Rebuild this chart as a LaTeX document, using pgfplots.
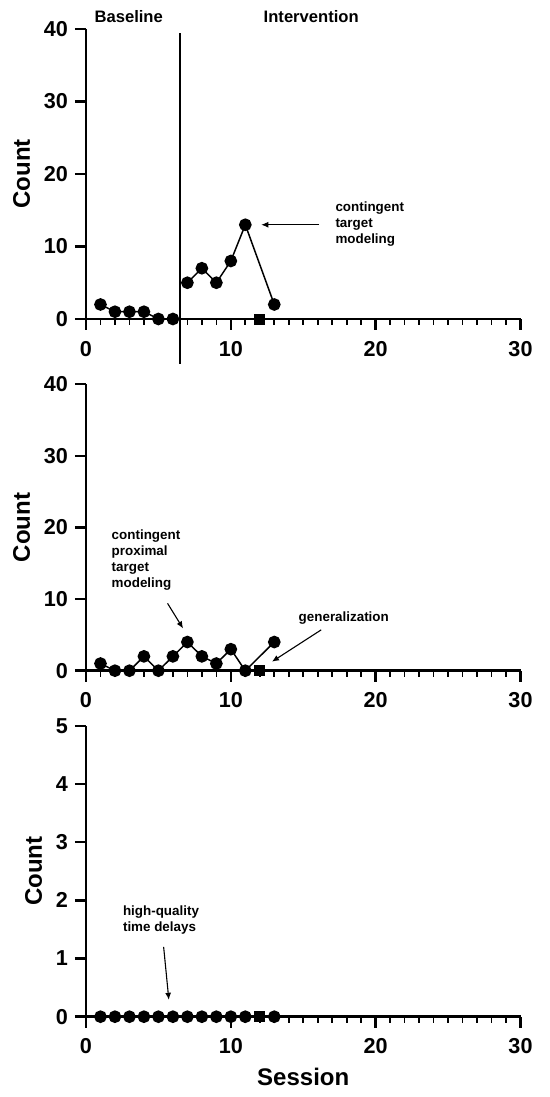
\documentclass[border=0pt]{standalone}
\usepackage{fontspec}
\setmainfont{Liberation Sans}
\usepackage{pgfplots}
\pgfplotsset{compat=1.18}
\usetikzlibrary{arrows.meta}
\pgfplotsset{
 panel/.style={
  scale only axis, width=217.25pt, anchor=south west,
  xmin=0, xmax=30, ymin=0,
  axis x line=bottom, axis y line=left,
  axis line style={line width=1.35pt,-},
  tick align=outside,
  major tick style={line width=1.2pt,black},
  minor tick style={line width=0.85pt,black},
  major tick length=5.5pt, minor tick length=3pt,
  xtick={0,10,20,30}, minor x tick num=9,
  clip=false,
  tick label style={font=\fontsize{10.8}{13}\selectfont\bfseries},
  xticklabel style={yshift=-2pt},
  /pgf/number format/assume math mode=true,
  label style={font=\fontsize{12}{14}\selectfont\bfseries},
  xlabel style={yshift=0pt},
  ylabel=Count,
 },
 dat/.style={black, line width=0.75pt, mark=*, mark size=2.8pt, mark options={solid}},
 sq/.style={only marks, mark=square*, mark size=2.5pt, black},
}
\tikzset{
 ann/.style={anchor=west, align=left, font=\fontsize{6.7}{8}\selectfont\bfseries, inner sep=0pt},
 arr/.style={-{Latex[length=3.5pt,width=3pt]}, line width=0.55pt},
 hdr/.style={font=\fontsize{8.3}{10}\selectfont\bfseries},
}
\begin{document}
\begin{tikzpicture}
\useasboundingbox (0,0) rectangle (275pt,548.5pt);
% top panel
\begin{axis}[panel, at={(43pt,389pt)}, height=145pt, ymax=40, ytick={0,10,20,30,40}]
\addplot[dat] coordinates {(1,2)(2,1)(3,1)(4,1)(5,0)(6,0)};
\addplot[dat] coordinates {(7,5)(8,7)(9,5)(10,8)(11,13)(13,2)};
\addplot[sq] coordinates {(12,0)};
\draw[line width=0.85pt] (axis cs:6.5,39.4) -- (axis cs:6.5,-6.2);
\node[hdr] at (axis cs:2.95,41.7) {Baseline};
\node[hdr] at (axis cs:15.55,41.7) {Intervention};
\node[ann] at (axis cs:17.2,13.1) {contingent\\target\\modeling};
\draw[arr] (axis cs:16.1,13) -- (axis cs:12.1,13);
\end{axis}
% middle panel
\begin{axis}[panel, at={(43pt,213.15pt)}, height=143.3pt, ymax=40, ytick={0,10,20,30,40}]
\addplot[dat] coordinates {(1,1)(2,0)(3,0)(4,2)(5,0)(6,2)(7,4)(8,2)(9,1)(10,3)(11,0)(13,4)};
\addplot[sq] coordinates {(12,0)};
\node[ann] at (axis cs:1.75,15.5) {contingent\\proximal\\target\\modeling};
\draw[arr] (axis cs:5.63,9.4) -- (axis cs:6.70,5.9);
\node[ann] at (axis cs:14.66,7.3) {generalization};
\draw[arr] (axis cs:16.24,5.7) -- (axis cs:12.84,1.26);
\end{axis}
% bottom panel
\begin{axis}[panel, at={(43pt,40.15pt)}, height=145.5pt, ymax=5, ytick={0,1,2,3,4,5}, xlabel=Session]
\addplot[dat] coordinates {(1,0)(2,0)(3,0)(4,0)(5,0)(6,0)(7,0)(8,0)(9,0)(10,0)(11,0)(13,0)};
\addplot[sq] coordinates {(12,0)};
\node[ann] at (axis cs:2.53,1.66) {high-quality\\time delays};
\draw[arr] (axis cs:5.36,1.20) -- (axis cs:5.72,0.29);
\end{axis}
\end{tikzpicture}
\end{document}
